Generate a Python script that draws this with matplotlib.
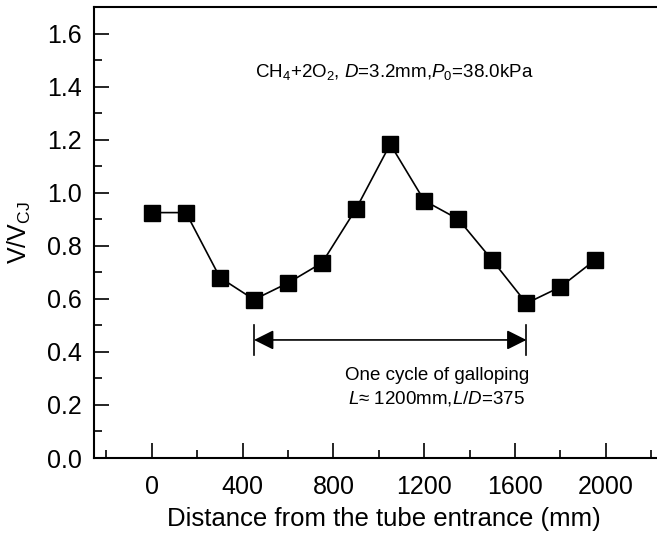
import matplotlib.pyplot as plt
from matplotlib.ticker import MultipleLocator

plt.rcParams['font.family'] = ['Liberation Sans', 'DejaVu Sans']
plt.rcParams['mathtext.fontset'] = 'custom'
plt.rcParams['mathtext.rm'] = 'Liberation Sans'
plt.rcParams['mathtext.it'] = 'Liberation Sans:italic'

# velocity deficit along the tube
distance_mm = [0, 150, 300, 450, 600, 750, 900, 1050, 1200, 1350, 1500, 1650, 1800, 1950]
v_ratio = [0.925, 0.925, 0.68, 0.597, 0.66, 0.736, 0.94, 1.183, 0.97, 0.90, 0.745, 0.583, 0.645, 0.745]

# one galloping cycle, marked between the two minima
cycle_start, cycle_end = 450, 1650
cycle_level = 0.445

fig = plt.figure(figsize=(6.57, 5.33), dpi=100)
ax = fig.add_axes([94 / 657, 75 / 533, 580 / 657, 451 / 533])

ax.plot(distance_mm, v_ratio, color='black', lw=1.2, marker='s', ms=11,
        mfc='black', mec='black')

# cycle span arrow with end bars
ax.annotate('', xy=(cycle_end, cycle_level), xytext=(cycle_start, cycle_level),
            arrowprops=dict(arrowstyle='<|-|>', color='black', lw=1.2,
                            mutation_scale=30, shrinkA=0, shrinkB=0))
for x in (cycle_start, cycle_end):
    ax.plot([x, x], [0.39, 0.50], color='black', lw=1.2)

ax.text(1255, 0.31, 'One cycle of galloping', ha='center', va='center', fontsize=13.5)
ax.text(1255, 0.225, r'$L$≈ 1200mm,$L$/$D$=375', ha='center', va='center', fontsize=13.5)
ax.text(1068, 1.455, r'CH$_4$+2O$_2$, $D$=3.2mm,$P_0$=38.0kPa',
        ha='center', va='center', fontsize=13.5)

ax.set_xlim(-255, 2300)
ax.set_ylim(0, 1.7)
ax.xaxis.set_minor_locator(MultipleLocator(200))
ax.yaxis.set_minor_locator(MultipleLocator(0.1))
ax.set_xticks([0, 400, 800, 1200, 1600, 2000])
ax.set_yticks([0.0, 0.2, 0.4, 0.6, 0.8, 1.0, 1.2, 1.4, 1.6])
ax.set_yticklabels([f'{v:.1f}' for v in ax.get_yticks()])

ax.tick_params(which='major', direction='in', length=11, width=1.2, labelsize=18)
ax.tick_params(axis='y', which='major', pad=9)
ax.tick_params(axis='x', which='major', pad=12)
ax.tick_params(which='minor', direction='in', length=6, width=1.2)
ax.tick_params(top=False, right=False)
for side in ('left', 'bottom', 'top'):
    ax.spines[side].set_linewidth(1.5)
ax.spines['right'].set_visible(False)

ax.set_xlabel('Distance from the tube entrance (mm)', fontsize=18.5, labelpad=6)
ax.set_ylabel(r'V/V$_{\mathregular{CJ}}$', fontsize=18, labelpad=10)

fig.savefig('out.png', dpi=100)
